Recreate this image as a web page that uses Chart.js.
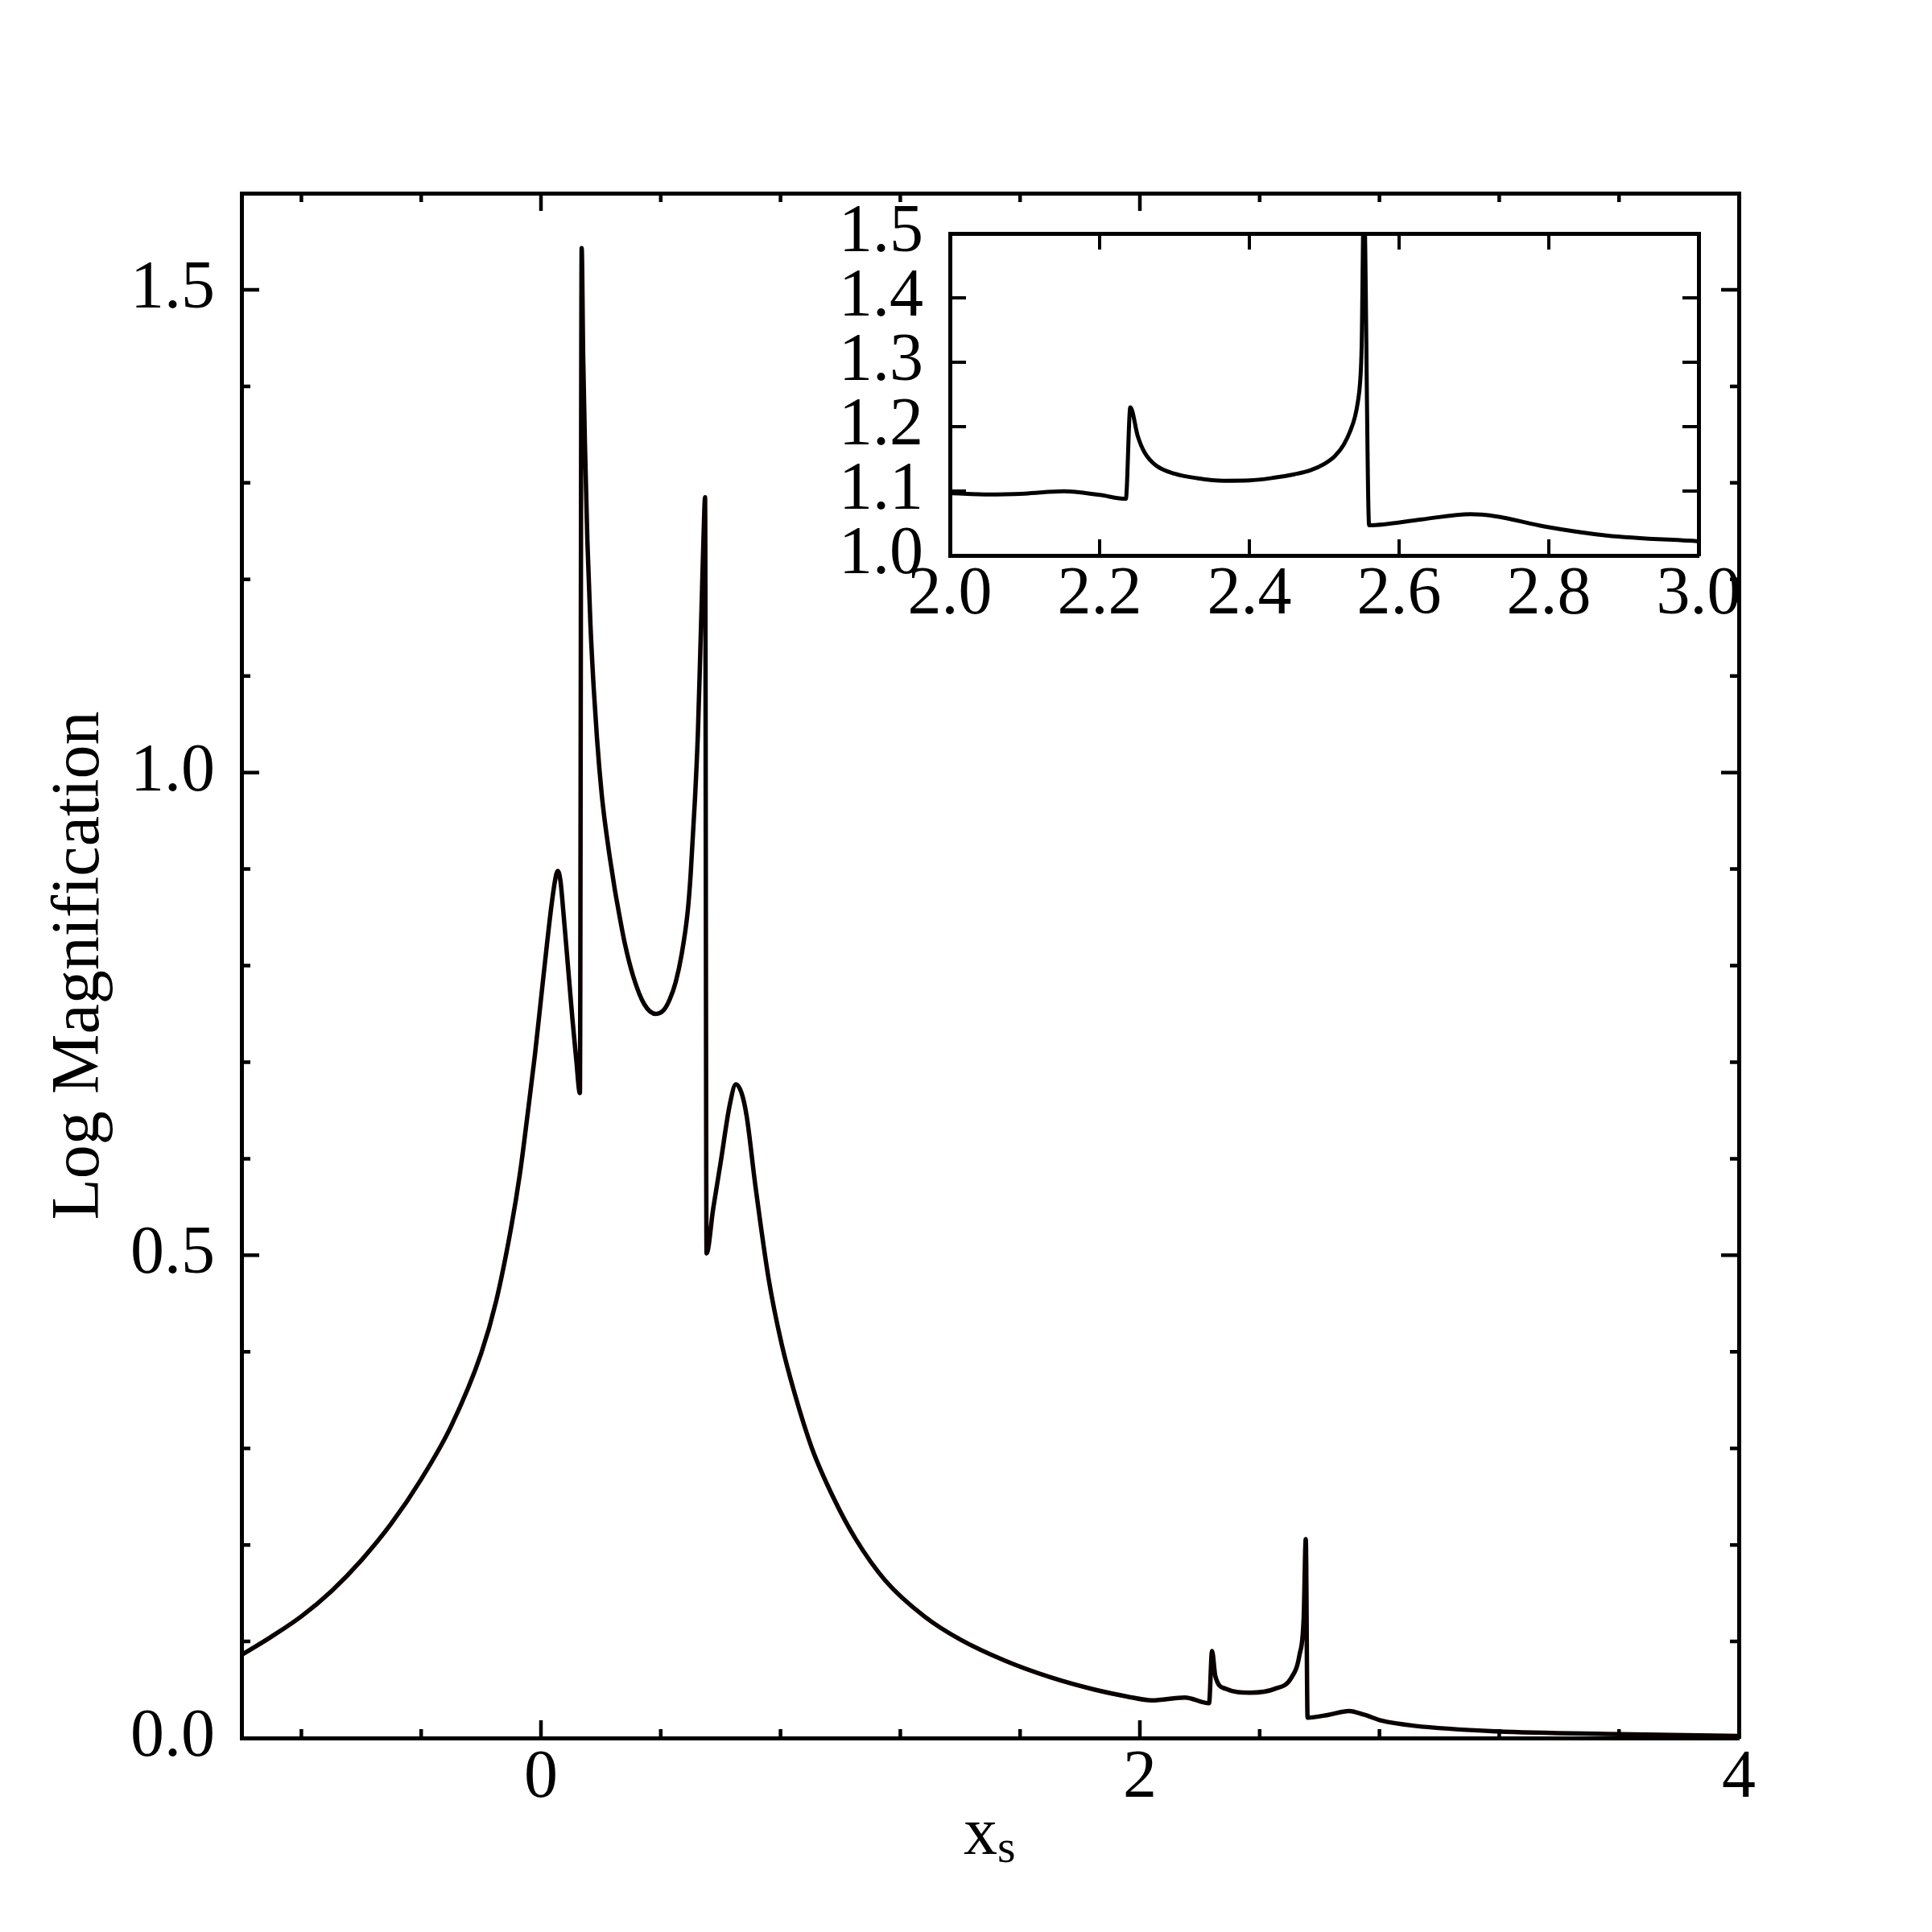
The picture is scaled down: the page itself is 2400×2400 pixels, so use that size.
<!DOCTYPE html>
<html>
<head>
<meta charset="utf-8">
<script src="https://cdn.jsdelivr.net/npm/chart.js@4.4.1/dist/chart.umd.min.js"></script>
<style>
body{margin:0;background:#fff;}
#wrap{position:relative;width:2400px;height:2400px;}
canvas{position:absolute;left:0;top:0;}
</style>
</head>
<body>
<div id="wrap">
<canvas id="mainChart" width="2400" height="2400"></canvas>
<canvas id="insetChart" width="2400" height="2400"></canvas>
</div>
<script>
// main curve
var mainX = [-1.00, -0.90, -0.80, -0.70, -0.60, -0.50, -0.40, -0.30, -0.20, -0.15, -0.10, -0.07, -0.045, -0.02, 0.0, 0.02,
    0.035, 0.047, 0.056, 0.065, 0.075, 0.090, 0.105, 0.118, 0.130,
    0.136, 0.141, 0.147, 0.155, 0.165, 0.176, 0.187, 0.195, 0.203, 0.211, 0.219, 0.228, 0.237, 0.246, 0.255, 0.280, 0.308, 0.345, 0.384,
    0.410, 0.430, 0.450, 0.470, 0.490, 0.500, 0.514, 0.524, 0.532, 0.538, 0.543, 0.548,
    0.553, 0.575, 0.600, 0.630, 0.651, 0.670, 0.687, 0.716, 0.760, 0.803, 0.847, 0.905, 0.978, 1.051, 1.150, 1.280,
    1.400, 1.550, 1.700, 1.850, 1.957,
    2.040, 2.150, 2.231, 2.241, 2.252, 2.286, 2.368, 2.451, 2.505, 2.533, 2.547, 2.554,
    2.560, 2.630, 2.698, 2.750, 2.807, 2.917, 3.191, 3.602, 4.000];
var mainY = [0.086, 0.105, 0.126, 0.152, 0.184, 0.222, 0.268, 0.323, 0.398, 0.452, 0.528, 0.585, 0.645, 0.708, 0.765, 0.822,
    0.862, 0.888, 0.898, 0.888, 0.855, 0.800, 0.745, 0.702, 0.668,
    1.543, 1.430, 1.338, 1.240, 1.155, 1.088, 1.036, 1.004, 0.977, 0.955, 0.936, 0.916, 0.898, 0.880, 0.864, 0.823, 0.789, 0.760, 0.750,
    0.754, 0.765, 0.783, 0.812, 0.856, 0.895, 0.971, 1.040, 1.124, 1.190, 1.245, 1.285,
    0.502, 0.548, 0.596, 0.655, 0.677, 0.668, 0.644, 0.572, 0.476, 0.409, 0.357, 0.300, 0.248, 0.206, 0.163, 0.126,
    0.102, 0.080, 0.063, 0.050, 0.043,
    0.039, 0.042, 0.036, 0.090, 0.064, 0.051, 0.047, 0.051, 0.062, 0.086, 0.124, 0.206,
    0.021, 0.024, 0.028, 0.024, 0.018, 0.0126, 0.0069, 0.004, 0.002];

// inset curve (zoom of 2..3)
var insetX = [2.000, 2.053, 2.100, 2.152, 2.200, 2.235, 2.241, 2.251, 2.260, 2.275, 2.300, 2.330, 2.366, 2.400, 2.432,
    2.460, 2.481, 2.500, 2.514, 2.526, 2.535, 2.541, 2.545, 2.548, 2.550, 2.553,
    2.560, 2.630, 2.695, 2.728, 2.794, 2.877, 3.000];
var insetY = [1.097, 1.0946, 1.096, 1.0996, 1.094, 1.088, 1.230, 1.185, 1.160, 1.140, 1.127, 1.120, 1.116, 1.1165, 1.1205,
    1.126, 1.132, 1.142, 1.154, 1.172, 1.194, 1.215, 1.239, 1.270, 1.324, 1.56,
    1.047, 1.056, 1.064, 1.061, 1.045, 1.031, 1.022];

// ticks
var mainXTicks = [-0.8, -0.4, 0, 0.4, 0.8, 1.2, 1.6, 2, 2.4, 2.8, 3.2, 3.6, 4];
var mainXLabelled = [0, 2, 4];
var mainYTicks = [0, 0.1, 0.2, 0.3, 0.4, 0.5, 0.6, 0.7, 0.8, 0.9, 1.0, 1.1, 1.2, 1.3, 1.4, 1.5, 1.6];
var mainYLabelled = [0, 0.5, 1.0, 1.5];
var insetXTicks = [2.0, 2.2, 2.4, 2.6, 2.8, 3.0];
var insetYTicks = [1.0, 1.1, 1.2, 1.3, 1.4, 1.5];

var FONT = 'Liberation Serif';

// inward ticks on all 4 sides + optional x label with subscript
var frameTicks = {
    id: 'frameTicks',
    afterDraw: function (chart, args, o) {
        var ctx = chart.ctx, a = chart.chartArea;
        var xs = chart.scales.x, ys = chart.scales.y;
        var isMajor = function (v, step) { return Math.abs(v / step - Math.round(v / step)) < 1e-6; };
        ctx.save();
        ctx.strokeStyle = '#000';
        ctx.lineWidth = o.width;
        ctx.beginPath();
        xs.ticks.forEach(function (t) {
            if (t.value <= xs.min + 1e-9 || t.value >= xs.max - 1e-9) return;
            var p = xs.getPixelForValue(t.value);
            var l = isMajor(t.value, o.majorX) ? o.len : o.minorLen;
            ctx.moveTo(p, a.bottom); ctx.lineTo(p, a.bottom - l);
            ctx.moveTo(p, a.top); ctx.lineTo(p, a.top + l);
        });
        ys.ticks.forEach(function (t) {
            if (t.value <= ys.min + 1e-9 || t.value >= ys.max - 1e-9) return;
            var p = ys.getPixelForValue(t.value);
            var l = isMajor(t.value, o.majorY) ? o.len : o.minorLen;
            ctx.moveTo(a.left, p); ctx.lineTo(a.left + l, p);
            ctx.moveTo(a.right, p); ctx.lineTo(a.right - l, p);
        });
        ctx.stroke();
        if (o.xText) {
            ctx.fillStyle = '#000';
            ctx.textAlign = 'left';
            ctx.textBaseline = 'alphabetic';
            ctx.font = '84px "' + FONT + '"';
            var cx = (a.left + a.right) / 2 - 33;
            ctx.fillText(o.xText, cx, a.bottom + 144);
            var w = ctx.measureText(o.xText).width;
            ctx.font = '58px "' + FONT + '"';
            ctx.fillText(o.xSub, cx + w, a.bottom + 154);
        }
        ctx.restore();
    }
};

function setTicks(vals) {
    return function (s) { s.ticks = vals.map(function (v) { return { value: v }; }); };
}

var tickFont = { family: FONT, size: 84 };
var frame = { display: true, width: 5, color: '#000' };
var noGrid = { display: false, drawTicks: false };

// main chart
new Chart(document.getElementById('mainChart').getContext('2d'), {
    type: 'line',
    data: {
        datasets: [{
            data: mainX.map(function (x, i) { return { x: x, y: mainY[i] }; }),
            borderColor: '#0a0000',
            borderWidth: 5.5,
            pointRadius: 0,
            cubicInterpolationMode: 'monotone',
            fill: false
        }]
    },
    options: {
        responsive: false,
        animation: false,
        layout: { padding: { left: 50, right: 240, top: 240, bottom: 91 } },
        plugins: {
            legend: { display: false },
            tooltip: { enabled: false },
            frameTicks: { width: 4.5, len: 22, minorLen: 11, majorX: 2, majorY: 0.5, xText: 'x', xSub: 's' }
        },
        scales: {
            x: {
                type: 'linear', position: 'bottom', min: -1, max: 4,
                afterBuildTicks: setTicks(mainXTicks),
                afterFit: function (s) { s.height = 150; },
                grid: noGrid, border: frame,
                ticks: {
                    autoSkip: false, maxRotation: 0, padding: 1, color: '#000', font: tickFont,
                    callback: function (v) { return mainXLabelled.indexOf(v) >= 0 ? String(v) : ''; }
                }
            },
            x2: {
                type: 'linear', position: 'top', min: -1, max: 4,
                afterFit: function (s) { s.height = 0; },
                grid: noGrid, border: frame, ticks: { display: false }
            },
            y: {
                type: 'linear', position: 'left', min: 0, max: 1.6,
                afterBuildTicks: setTicks(mainYTicks),
                afterFit: function (s) { s.width = 250; },
                grid: noGrid, border: frame,
                title: { display: true, text: 'Log Magnification', color: '#000', font: { family: FONT, size: 84 }, padding: 0 },
                ticks: {
                    autoSkip: false, padding: 33, color: '#000', font: tickFont,
                    callback: function (v) { return mainYLabelled.indexOf(v) >= 0 ? v.toFixed(1) : ''; }
                }
            },
            y2: {
                type: 'linear', position: 'right', min: 0, max: 1.6,
                afterFit: function (s) { s.width = 0; },
                grid: noGrid, border: frame, ticks: { display: false }
            }
        }
    },
    plugins: [frameTicks]
});

// inset chart
new Chart(document.getElementById('insetChart').getContext('2d'), {
    type: 'line',
    data: {
        datasets: [{
            data: insetX.map(function (x, i) { return { x: x, y: insetY[i] }; }),
            borderColor: '#000',
            borderWidth: 5,
            pointRadius: 0,
            cubicInterpolationMode: 'monotone',
            fill: false
        }]
    },
    options: {
        responsive: false,
        animation: false,
        layout: { padding: { left: 1030, right: 290, top: 290, bottom: 1590 } },
        plugins: {
            legend: { display: false },
            tooltip: { enabled: false },
            frameTicks: { width: 4, len: 20, minorLen: 20, majorX: 0.2, majorY: 0.1 }
        },
        scales: {
            x: {
                type: 'linear', position: 'bottom', min: 2, max: 3,
                afterBuildTicks: setTicks(insetXTicks),
                afterFit: function (s) { s.height = 120; },
                grid: noGrid, border: frame,
                ticks: {
                    autoSkip: false, maxRotation: 0, padding: 0, color: '#000', font: tickFont,
                    callback: function (v) { return v.toFixed(1); }
                }
            },
            x2: {
                type: 'linear', position: 'top', min: 2, max: 3,
                afterFit: function (s) { s.height = 0; },
                grid: noGrid, border: frame, ticks: { display: false }
            },
            y: {
                type: 'linear', position: 'left', min: 1, max: 1.5,
                afterBuildTicks: setTicks(insetYTicks),
                afterFit: function (s) { s.width = 150; },
                grid: noGrid, border: frame,
                ticks: {
                    autoSkip: false, padding: 33, color: '#000', font: tickFont,
                    callback: function (v) { return v.toFixed(1); }
                }
            },
            y2: {
                type: 'linear', position: 'right', min: 1, max: 1.5,
                afterFit: function (s) { s.width = 0; },
                grid: noGrid, border: frame, ticks: { display: false }
            }
        }
    },
    plugins: [frameTicks]
});
</script>
</body>
</html>
